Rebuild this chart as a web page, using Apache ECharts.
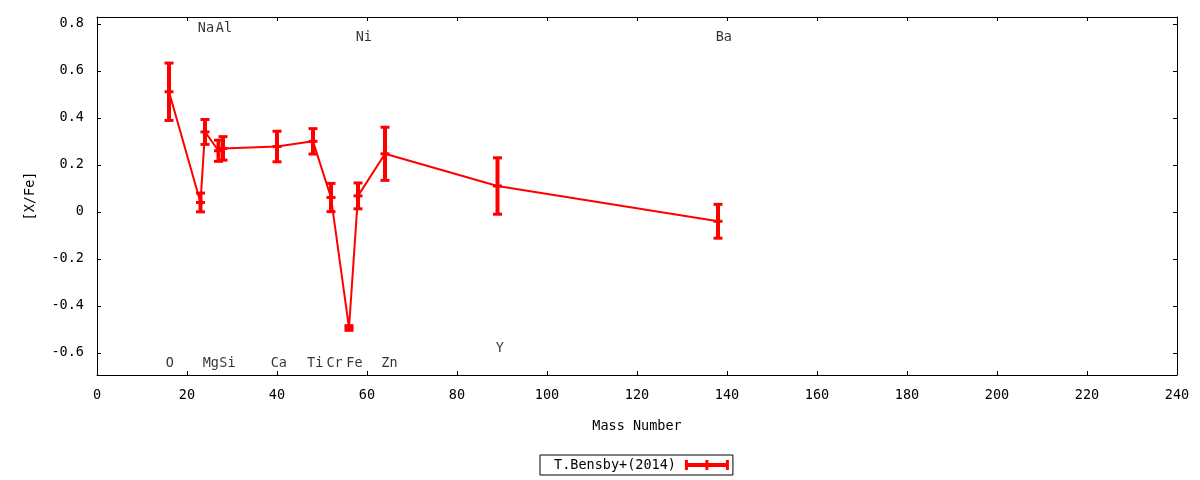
<!DOCTYPE html>
<html>
<head>
<meta charset="utf-8">
<script src="https://cdn.jsdelivr.net/npm/echarts@6/dist/echarts.min.js"></script>
<style>
  html, body { margin: 0; padding: 0; background: #fff; }
  #chart { width: 1200px; height: 480px; }
</style>
</head>
<body>
<div id="chart"></div>
<script>
// abundance data
var masses = [16, 23, 24, 27, 28, 40, 48, 52, 56, 58, 64, 89, 138];
var xfe    = [0.511, 0.04, 0.34, 0.26, 0.27, 0.278, 0.30, 0.061, -0.494, 0.068, 0.247, 0.11, -0.04];
var xfeErr = [0.122, 0.04, 0.053, 0.045, 0.05, 0.065, 0.054, 0.06, 0.01, 0.055, 0.113, 0.12, 0.072];

// element labels (data coords)
var labelNames = ['O', 'Na', 'Mg', 'Al', 'Si', 'Ca', 'Ti', 'Cr', 'Fe', 'Ni', 'Zn', 'Y', 'Ba'];
var labelX = [16.2, 24.2, 25.3, 28.2, 29.0, 40.4, 48.5, 52.8, 57.2, 59.3, 65.0, 89.5, 139.3];
var labelY = [-0.643, 0.78, -0.643, 0.78, -0.643, -0.643, -0.643, -0.643, -0.643, 0.742, -0.643, -0.583, 0.742];

var seriesName = 'T.Bensby+(2014)';
var FONT = 'DejaVu Sans Mono';
var FS = 13.5;

var lineData = masses.map(function (m, i) { return [m, xfe[i]]; });
var errData = masses.map(function (m, i) { return [m, xfe[i], xfeErr[i]]; });
var labelData = labelNames.map(function (n, i) { return { name: n, value: [labelX[i], labelY[i]] }; });

function renderErrorBar(params, api) {
    var x = api.value(0), y = api.value(1), e = api.value(2);
    var top = api.coord([x, y + e]);
    var bot = api.coord([x, y - e]);
    var mid = api.coord([x, y]);
    var hw = 4.5;
    var red = '#ff0000';
    return {
        type: 'group',
        children: [
            { type: 'line', shape: { x1: top[0], y1: top[1], x2: bot[0], y2: bot[1] }, style: { stroke: red, lineWidth: 4 } },
            { type: 'line', shape: { x1: top[0] - hw, y1: top[1], x2: top[0] + hw, y2: top[1] }, style: { stroke: red, lineWidth: 3 } },
            { type: 'line', shape: { x1: bot[0] - hw, y1: bot[1], x2: bot[0] + hw, y2: bot[1] }, style: { stroke: red, lineWidth: 3 } },
            { type: 'line', shape: { x1: mid[0] - hw, y1: mid[1], x2: mid[0] + hw, y2: mid[1] }, style: { stroke: red, lineWidth: 3 } }
        ]
    };
}

var axisCommon = {
    axisLine: { show: true, onZero: false, lineStyle: { color: '#000', width: 1 } },
    axisTick: { show: true, inside: true, length: 4, lineStyle: { color: '#000' } },
    splitLine: { show: false }
};

var chart = echarts.init(document.getElementById('chart'));

var option = {
    backgroundColor: '#fff',
    animation: false,
    textStyle: { fontFamily: FONT },
    grid: { left: 97, right: 23, top: 17, bottom: 105 },
    legend: {
        left: 540,
        top: 455,
        align: 'right',
        orient: 'horizontal',
        padding: [3, 4, 3, 14],
        borderColor: '#000',
        borderWidth: 1,
        borderRadius: 0,
        itemWidth: 44,
        itemHeight: 10,
        textStyle: { fontFamily: FONT, fontSize: FS, color: '#000', padding: [0, 4, 0, 0] },
        data: [{
            name: seriesName,
            icon: 'path://M0,3H44V7H0Z M0,0H3V10H0Z M41,0H44V10H41Z M20.5,0H23.5V10H20.5Z',
            itemStyle: { color: '#ff0000' }
        }]
    },
    xAxis: [
        Object.assign({
            type: 'value', position: 'bottom', min: 0, max: 240, interval: 20,
            name: 'Mass Number', nameLocation: 'middle', nameGap: 44,
            nameTextStyle: { fontFamily: FONT, fontSize: FS, color: '#000' },
            axisLabel: { fontFamily: FONT, fontSize: FS, color: '#000', margin: 13 }
        }, axisCommon),
        Object.assign({
            type: 'value', position: 'top', min: 0, max: 240, interval: 20,
            axisLabel: { show: false }
        }, axisCommon)
    ],
    yAxis: [
        Object.assign({
            type: 'value', position: 'left', min: -0.694, max: 0.829, splitNumber: 7,
            name: '[X/Fe]', nameLocation: 'middle', nameGap: 60,
            nameTextStyle: { fontFamily: FONT, fontSize: FS, color: '#000' },
            axisLabel: {
                fontFamily: FONT, fontSize: FS, color: '#000', margin: 13,
                showMinLabel: false, showMaxLabel: false,
                formatter: function (v) { return Math.abs(v) < 1e-9 ? '0' : v.toFixed(1); }
            }
        }, axisCommon),
        Object.assign({
            type: 'value', position: 'right', min: -0.694, max: 0.829, splitNumber: 7,
            axisLabel: { show: false }
        }, axisCommon)
    ],
    series: [
        {
            name: seriesName,
            type: 'line',
            data: lineData,
            symbol: 'none',
            lineStyle: { color: '#ff0000', width: 2 },
            itemStyle: { color: '#ff0000' },
            z: 2
        },
        {
            name: seriesName,
            type: 'custom',
            data: errData,
            renderItem: renderErrorBar,
            encode: { x: 0, y: 1 },
            z: 3
        },
        {
            name: 'labels',
            type: 'scatter',
            data: labelData,
            symbolSize: 0,
            silent: true,
            label: {
                show: true, position: 'inside', formatter: '{b}',
                fontFamily: FONT, fontSize: FS, color: '#000'
            },
            z: 4
        }
    ]
};

chart.setOption(option);
</script>
</body>
</html>
